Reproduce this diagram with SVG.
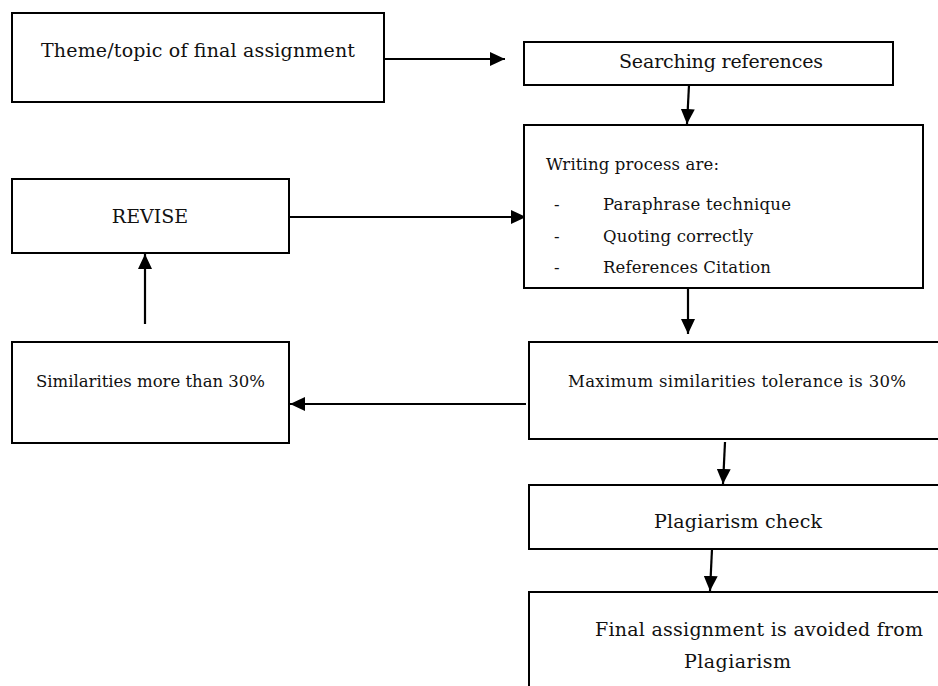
<svg xmlns="http://www.w3.org/2000/svg" width="938" height="686" viewBox="0 0 938 686">
<defs>
<style>
.box{fill:#fff;stroke:#000;stroke-width:2}
.t{font-family:"DejaVu Serif","Liberation Serif",serif;fill:#111}
.big{font-size:19px}
.sm{font-size:16.5px}
.c{fill:none;stroke:#000;stroke-width:2.2}
</style>
<marker id="ah" markerUnits="userSpaceOnUse" markerWidth="16" markerHeight="14" refX="15" refY="7" orient="auto">
<path d="M0,0 L15,7 L0,14 z" fill="#000"/>
</marker>
</defs>
<rect width="938" height="686" fill="#fff"/>
<g id="connectors">
<line class="c" x1="384" y1="59" x2="505" y2="59" marker-end="url(#ah)"/>
<line class="c" x1="689" y1="85" x2="687" y2="124" marker-end="url(#ah)"/>
<line class="c" x1="289" y1="217" x2="526" y2="217" marker-end="url(#ah)"/>
<line class="c" x1="145" y1="324" x2="145" y2="254" marker-end="url(#ah)"/>
<line class="c" x1="688" y1="288" x2="688" y2="334" marker-end="url(#ah)"/>
<line class="c" x1="526" y1="404" x2="290" y2="404" marker-end="url(#ah)"/>
<line class="c" x1="725" y1="442" x2="723" y2="484" marker-end="url(#ah)"/>
<line class="c" x1="712" y1="549" x2="710" y2="591" marker-end="url(#ah)"/>
</g>
<g id="theme">
<rect class="box" x="12" y="13" width="372" height="89"/>
<text class="t big" x="41" y="57" textLength="314">Theme/topic of final assignment</text>
</g>
<g id="search">
<rect class="box" x="524" y="42" width="369" height="43"/>
<text class="t big" x="619" y="68" textLength="204">Searching references</text>
</g>
<g id="writing">
<rect class="box" x="524" y="125" width="399" height="163"/>
<text class="t sm" x="546" y="170" textLength="173">Writing process are:</text>
<text class="t sm" x="554" y="210">-</text>
<text class="t sm" x="603" y="210" textLength="188">Paraphrase technique</text>
<text class="t sm" x="554" y="242">-</text>
<text class="t sm" x="603" y="242" textLength="150">Quoting correctly</text>
<text class="t sm" x="554" y="273">-</text>
<text class="t sm" x="603" y="273" textLength="168">References Citation</text>
</g>
<g id="revise">
<rect class="box" x="12" y="179" width="277" height="74"/>
<text class="t big" x="150" y="223" text-anchor="middle">REVISE</text>
</g>
<g id="similar">
<rect class="box" x="12" y="342" width="277" height="101"/>
<text class="t sm" x="36" y="387" textLength="229">Similarities more than 30%</text>
</g>
<g id="maximum">
<rect class="box" x="529" y="342" width="420" height="97"/>
<text class="t sm" x="568" y="387" textLength="338">Maximum similarities tolerance is 30%</text>
</g>
<g id="plagcheck">
<rect class="box" x="529" y="485" width="420" height="64"/>
<text class="t big" x="654" y="528" textLength="168">Plagiarism check</text>
</g>
<g id="final">
<rect class="box" x="529" y="592" width="420" height="110"/>
<text class="t big" x="595" y="636" textLength="328">Final assignment is avoided from</text>
<text class="t big" x="684" y="668" textLength="107">Plagiarism</text>
</g>
</svg>
